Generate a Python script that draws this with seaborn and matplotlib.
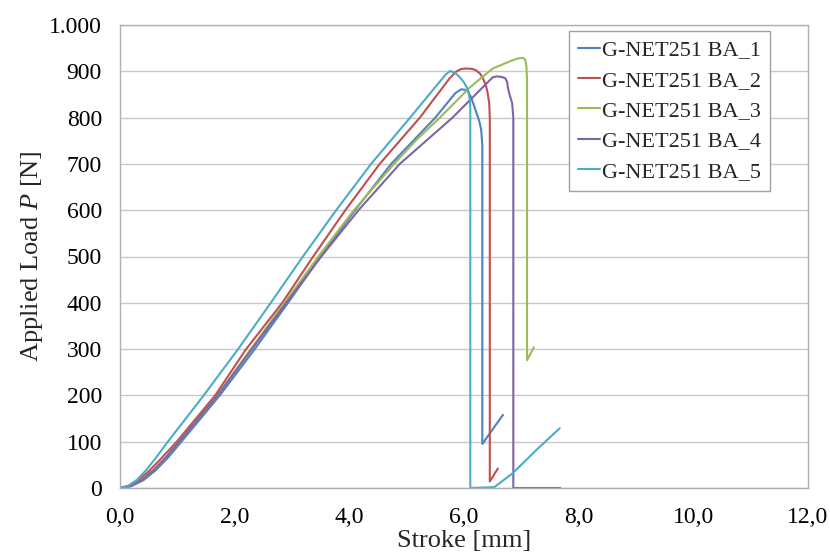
import numpy as np
import pandas as pd
import matplotlib
matplotlib.use("Agg")
import matplotlib.pyplot as plt
import seaborn as sns

# ---- data ----
series_names = ["G-NET251 BA_1", "G-NET251 BA_2", "G-NET251 BA_3",
                "G-NET251 BA_4", "G-NET251 BA_5"]

ba1_x = [0, 0.20, 0.41, 0.62, 0.84, 1.07, 1.74, 2.35, 2.93, 3.50, 4.10, 4.73,
         5.50, 5.85, 5.95, 6.02, 6.07, 6.12, 6.18, 6.27, 6.30, 6.32, 6.32,
         6.45, 6.68]
ba1_y = [0, 4, 17, 38, 66, 100, 200, 300, 400, 500, 600, 700,
         800, 853, 861, 860, 856, 845, 824, 791, 773, 740, 95,
         118, 158]

ba2_x = [0, 0.15, 0.32, 0.50, 0.72, 0.99, 1.66, 2.20, 2.83, 3.37, 3.93, 4.53,
         5.23, 5.75, 5.87, 5.95, 6.04, 6.15, 6.21, 6.28, 6.33, 6.38, 6.41,
         6.44, 6.45, 6.45, 6.59]
ba2_y = [0, 5, 17, 36, 64, 100, 200, 300, 400, 500, 600, 700,
         800, 885, 900, 905, 906, 905, 902, 895, 885, 870, 855,
         831, 800, 14, 42]

ba3_x = [0, 0.18, 0.38, 0.58, 0.80, 1.03, 1.70, 2.28, 2.87, 3.46, 4.08, 4.78,
         5.17, 5.58, 6.10, 6.50, 6.85, 6.95, 7.03, 7.07, 7.09, 7.10, 7.10,
         7.22]
ba3_y = [0, 4, 17, 38, 66, 100, 200, 300, 400, 500, 600, 700,
         752, 800, 865, 906, 924, 928, 929, 925, 910, 880, 276,
         304]

ba4_x = [0, 0.18, 0.38, 0.58, 0.80, 1.03, 1.70, 2.30, 2.90, 3.51, 4.16, 4.88,
         5.80, 6.50, 6.57, 6.65, 6.72, 6.75, 6.77, 6.79, 6.84, 6.86, 6.86,
         7.68]
ba4_y = [0, 4, 17, 38, 66, 100, 200, 300, 400, 500, 600, 700,
         800, 887, 889, 888, 885, 878, 862, 852, 831, 800, 0,
         0]

ba5_x = [0, 0.15, 0.30, 0.45, 0.62, 0.81, 1.46, 2.06, 2.63, 3.19, 3.77, 4.38,
         5.06, 5.68, 5.76, 5.85, 5.92, 6.00, 6.07, 6.10, 6.11, 6.11, 6.53,
         6.85, 7.26, 7.67]
ba5_y = [0, 5, 18, 38, 64, 96, 200, 300, 400, 500, 600, 700,
         800, 893, 901, 896, 888, 876, 860, 840, 820, 0, 2,
         32, 82, 129]

x_ticks = [0, 2, 4, 6, 8, 10, 12]
x_tick_labels = ["0,0", "2,0", "4,0", "6,0", "8,0", "10,0", "12,0"]
y_ticks = [0, 100, 200, 300, 400, 500, 600, 700, 800, 900, 1000]
y_tick_labels = ["0", "100", "200", "300", "400", "500", "600", "700",
                 "800", "900", "1.000"]

colors = ["#4F81BD", "#C0504D", "#9BBB59", "#8064A2", "#4BACC6"]

# ---- build long table ----
xs = [ba1_x, ba2_x, ba3_x, ba4_x, ba5_x]
ys = [ba1_y, ba2_y, ba3_y, ba4_y, ba5_y]
frames = []
for name, x, y in zip(series_names, xs, ys):
    frames.append(pd.DataFrame({"Stroke": x, "Load": y, "Series": name}))
df = pd.concat(frames, ignore_index=True)

sns.set_theme(style="white")
plt.rcParams["font.family"] = ["Liberation Serif", "DejaVu Serif"]
plt.rcParams["mathtext.fontset"] = "custom"
plt.rcParams["mathtext.rm"] = "Liberation Serif"
plt.rcParams["mathtext.it"] = "Liberation Serif:italic"

fig = plt.figure(figsize=(8.3, 5.53), dpi=100)
ax = fig.add_axes([120 / 830, 1 - 488 / 553, 688 / 830, 463 / 553])

sns.lineplot(data=df, x="Stroke", y="Load", hue="Series", hue_order=series_names,
             palette=colors, sort=False, estimator=None, linewidth=1.5, ax=ax)

ax.set_xlim(0, 12)
ax.set_ylim(0, 1000)
ax.set_xticks(x_ticks)
ax.set_xticklabels(x_tick_labels)
ax.set_yticks(y_ticks)
ax.set_yticklabels(y_tick_labels)
ax.tick_params(axis="both", length=0, labelsize=17, colors="black")
ax.tick_params(axis="x", pad=14)
ax.tick_params(axis="y", pad=13)
ax.yaxis.grid(True, color="#C8C8C8", linewidth=1.0)
ax.xaxis.grid(False)
ax.set_axisbelow(True)
for s in ax.spines.values():
    s.set_visible(True)
    s.set_color("#B0B0B0")
    s.set_linewidth(1.0)

ax.set_xlabel("Stroke [mm]", fontsize=19, labelpad=1)
ax.set_ylabel("Applied Load $P$ [N]", fontsize=19, labelpad=3)

leg = ax.legend(loc="upper right", bbox_to_anchor=(770 / 830, 1 - 31 / 553),
                bbox_transform=fig.transFigure, borderaxespad=0,
                fontsize=16, frameon=True, fancybox=False, framealpha=1,
                handlelength=1.0, handletextpad=0.1, labelspacing=0.44,
                borderpad=0.4, title=None)
leg.get_frame().set_edgecolor("#A0A0A0")
leg.get_frame().set_linewidth(1.0)
for line in leg.get_lines():
    line.set_linewidth(1.5)

fig.savefig("out.png", dpi=100)
